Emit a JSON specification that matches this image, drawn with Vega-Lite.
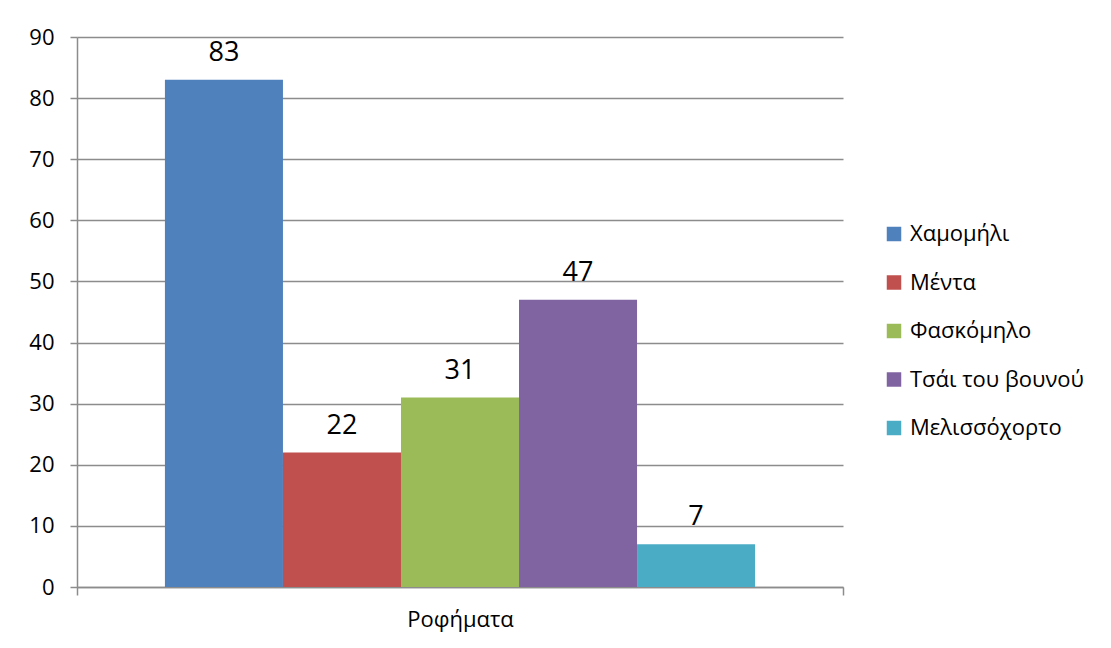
{
  "$schema": "https://vega.github.io/schema/vega-lite/v6.json",
  "autosize": {"type": "none"},
  "padding": {"left": 77, "top": 37, "right": 268, "bottom": 61},
  "width": 766,
  "height": 550,
  "background": "white",
  "config": {
    "view": {"stroke": null},
    "font": "Open Sans",
    "axis": {
      "domainColor": "#8c8c8c",
      "tickColor": "#8c8c8c",
      "gridColor": "#8c8c8c",
      "labelColor": "#000000",
      "labelFont": "Open Sans",
      "labelFontSize": 22
    }
  },
  "data": {
    "values": [
      {"group": "Ροφήματα", "drink": "Χαμομήλι", "count": 83},
      {"group": "Ροφήματα", "drink": "Μέντα", "count": 22},
      {"group": "Ροφήματα", "drink": "Φασκόμηλο", "count": 31},
      {"group": "Ροφήματα", "drink": "Τσάι του βουνού", "count": 47},
      {"group": "Ροφήματα", "drink": "Μελισσόχορτο", "count": 7}
    ]
  },
  "encoding": {
    "x": {
      "field": "group",
      "type": "nominal",
      "scale": {"paddingInner": 0, "paddingOuter": 0},
      "axis": {
        "title": null,
        "labelAngle": 0,
        "tickBand": "extent",
        "tickSize": 8,
        "tickWidth": 1.5,
        "domainWidth": 1.5,
        "labelPadding": 14
      }
    },
    "xOffset": {
      "field": "drink",
      "type": "nominal",
      "sort": ["Χαμομήλι", "Μέντα", "Φασκόμηλο", "Τσάι του βουνού", "Μελισσόχορτο"],
      "scale": {"paddingInner": 0, "paddingOuter": 0.745}
    },
    "y": {
      "field": "count",
      "type": "quantitative",
      "scale": {"domain": [0, 90], "nice": false},
      "axis": {
        "title": null,
        "values": [0, 10, 20, 30, 40, 50, 60, 70, 80, 90],
        "tickSize": 7,
        "tickWidth": 1.5,
        "domainWidth": 1.5,
        "gridWidth": 1.5,
        "labelPadding": 16
      }
    }
  },
  "layer": [
    {
      "mark": {"type": "bar"},
      "encoding": {
        "color": {
          "field": "drink",
          "type": "nominal",
          "sort": ["Χαμομήλι", "Μέντα", "Φασκόμηλο", "Τσάι του βουνού", "Μελισσόχορτο"],
          "scale": {"range": ["#4F81BD", "#C0504D", "#9BBB59", "#8064A2", "#4BACC6"]},
          "legend": {
            "title": null,
            "orient": "none",
            "legendX": 806,
            "legendY": 186,
            "padding": 0,
            "symbolType": "square",
            "symbolSize": 210,
            "symbolStrokeWidth": 0,
            "symbolOpacity": 1,
            "labelFont": "Open Sans",
            "labelFontSize": 22,
            "labelColor": "#000000",
            "labelOffset": 5,
            "rowPadding": 26.5,
            "labelLimit": 300
          }
        }
      }
    },
    {
      "mark": {"type": "text", "baseline": "alphabetic", "dy": -19, "fontSize": 27, "font": "Open Sans", "color": "#000000"},
      "encoding": {
        "text": {"field": "count", "type": "quantitative"}
      }
    }
  ]
}
